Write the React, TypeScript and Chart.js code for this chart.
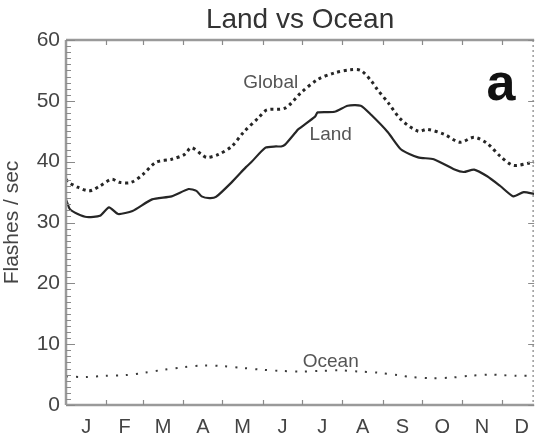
import { useEffect, useRef } from 'react';
import { Chart, registerables } from 'chart.js';

Chart.register(...registerables);

// Month letters and day-of-year boundaries
const monthLabels = ['J', 'F', 'M', 'A', 'M', 'J', 'J', 'A', 'S', 'O', 'N', 'D'];
const monthStarts = [0, 31, 59, 90, 120, 151, 181, 212, 243, 273, 304, 334, 365];
const yTickValues = [0, 10, 20, 30, 40, 50, 60];

// Land (solid)
const landDays = [0, 3, 9, 16, 26, 33, 40, 51, 66, 81, 94, 100, 104, 110, 115, 127, 138, 142, 153, 161, 165, 168, 176, 178, 191, 193, 206, 216, 226, 234, 247, 257, 270, 282, 298, 305, 313, 323, 333, 343, 351, 359];
const landValues = [33.8, 32.2, 31.4, 30.9, 31.1, 32.5, 31.4, 31.9, 33.8, 34.3, 35.5, 35.2, 34.3, 34.0, 34.2, 36.6, 39.1, 39.9, 42.3, 42.5, 42.5, 42.8, 44.8, 45.3, 47.4, 48.1, 48.2, 49.2, 49.2, 47.7, 44.8, 42.0, 40.7, 40.4, 38.7, 38.3, 38.7, 37.6, 36.0, 34.3, 35.0, 34.7];

// Global (dotted)
const globalDays = [0, 2, 9, 18, 26, 35, 41, 50, 59, 69, 81, 91, 96, 104, 108, 117, 127, 136, 148, 154, 168, 180, 193, 206, 218, 226, 234, 239, 247, 257, 270, 277, 290, 302, 313, 323, 333, 343, 356, 359];
const globalValues = [37.1, 36.6, 35.8, 35.2, 36.0, 37.1, 36.6, 36.6, 37.9, 39.9, 40.4, 41.2, 42.3, 41.2, 40.7, 41.2, 42.5, 44.8, 47.3, 48.5, 48.8, 51.3, 53.5, 54.6, 55.1, 55.0, 53.3, 51.8, 49.7, 46.9, 45.0, 45.3, 44.5, 43.2, 44.0, 43.0, 40.9, 39.4, 39.8, 39.9];

// Ocean (dotted)
const oceanDays = [0, 15, 30, 45, 60, 75, 90, 105, 120, 135, 150, 165, 180, 195, 210, 225, 240, 255, 265, 280, 295, 310, 325, 335, 345, 359];
const oceanValues = [4.7, 4.6, 4.8, 4.9, 5.3, 5.8, 6.2, 6.5, 6.4, 6.1, 5.8, 5.6, 5.5, 5.6, 5.7, 5.5, 5.3, 4.9, 4.6, 4.4, 4.5, 4.8, 5.0, 4.9, 4.8, 4.8];

// Annotation text anchors (data coordinates)
const annotations = [
  { text: 'Global', day: 157, value: 52.9 },
  { text: 'Land', day: 203, value: 44.4 },
  { text: 'Ocean', day: 203, value: 7.1 },
];

const FONT = '"Liberation Sans", Arial, Helvetica, sans-serif';
const AXIS_COLOR = '#9a9a9a';
const LINE_COLOR = '#262626';

const toPoints = (xs: number[], ys: number[]) => xs.map((x, i) => ({ x, y: ys[i] }));

const framePlugin = {
  id: 'idlFrame',
  afterDraw(chart: any) {
    const { ctx, chartArea, scales } = chart;
    const { left, right, top, bottom } = chartArea;
    const xs = scales.x;
    const ys = scales.y;
    ctx.save();
    // frame
    ctx.strokeStyle = AXIS_COLOR;
    ctx.lineWidth = 2.5;
    ctx.beginPath();
    ctx.moveTo(left, top);
    ctx.lineTo(right, top);
    ctx.moveTo(left, bottom);
    ctx.lineTo(right, bottom);
    ctx.moveTo(left, top);
    ctx.lineTo(left, bottom);
    ctx.stroke();
    // right side dotted
    ctx.lineWidth = 1.5;
    ctx.setLineDash([2, 3]);
    ctx.beginPath();
    ctx.moveTo(right - 1, top);
    ctx.lineTo(right - 1, bottom);
    ctx.stroke();
    ctx.setLineDash([]);
    // month ticks (inward) on bottom and top
    ctx.lineWidth = 1.2;
    ctx.strokeStyle = '#8a8a8a';
    ctx.beginPath();
    monthStarts.slice(1, 12).forEach((d) => {
      const px = Math.round(xs.getPixelForValue(d)) + 0.5;
      ctx.moveTo(px, bottom);
      ctx.lineTo(px, bottom - 5);
      ctx.moveTo(px, top);
      ctx.lineTo(px, top + 5);
    });
    ctx.stroke();
    // y minor/major ticks (inward) on left, major on right
    ctx.beginPath();
    for (let v = 0; v <= 60; v += 1) {
      const py = Math.round(ys.getPixelForValue(v)) + 0.5;
      const len = v % 10 === 0 ? 9 : 5;
      ctx.moveTo(left, py);
      ctx.lineTo(left + len, py);
    }
    yTickValues.forEach((v) => {
      const py = Math.round(ys.getPixelForValue(v)) + 0.5;
      ctx.moveTo(right, py);
      ctx.lineTo(right - 6, py);
    });
    ctx.stroke();

    // title
    ctx.fillStyle = '#333';
    ctx.font = `28px ${FONT}`;
    ctx.textAlign = 'center';
    ctx.textBaseline = 'middle';
    ctx.fillText('Land vs Ocean', (left + right) / 2, 20);

    // series annotations
    ctx.fillStyle = '#555';
    ctx.font = `19px ${FONT}`;
    annotations.forEach((a) => {
      ctx.fillText(a.text, xs.getPixelForValue(a.day), ys.getPixelForValue(a.value));
    });

    // panel letter
    ctx.fillStyle = '#111';
    ctx.font = `bold 52px ${FONT}`;
    ctx.textBaseline = 'alphabetic';
    ctx.fillText('a', xs.getPixelForValue(333.5), ys.getPixelForValue(50.1));
    ctx.restore();
  },
};

export default function App() {
  const canvasRef = useRef<HTMLCanvasElement | null>(null);

  useEffect(() => {
    if (!canvasRef.current) return;
    const monthMids = monthLabels.map((_, i) => (monthStarts[i] + monthStarts[i + 1]) / 2);
    const chart = new Chart(canvasRef.current, {
      type: 'line',
      data: {
        datasets: [
          {
            label: 'Global',
            data: toPoints(globalDays, globalValues),
            borderColor: LINE_COLOR,
            borderWidth: 3,
            borderDash: [3, 3.6],
            borderCapStyle: 'butt',
            pointRadius: 0,
            tension: 0.3,
            fill: false,
          },
          {
            label: 'Land',
            data: toPoints(landDays, landValues),
            borderColor: LINE_COLOR,
            borderWidth: 2.2,
            pointRadius: 0,
            tension: 0.2,
            fill: false,
          },
          {
            label: 'Ocean',
            data: toPoints(oceanDays, oceanValues),
            borderColor: '#3a3a3a',
            borderWidth: 2,
            borderDash: [2, 8],
            borderCapStyle: 'butt',
            pointRadius: 0,
            tension: 0.3,
            fill: false,
          },
        ],
      },
      options: {
        animation: false,
        responsive: false,
        maintainAspectRatio: false,
        layout: { padding: { top: 40, right: 1, left: 0, bottom: 0 } },
        plugins: {
          legend: { display: false },
          tooltip: { enabled: false },
          title: { display: false },
        },
        scales: {
          x: {
            type: 'linear',
            min: 0,
            max: 359,
            grid: { display: false, drawTicks: false },
            border: { display: false },
            afterBuildTicks: (scale: any) => {
              scale.ticks = monthMids.map((v) => ({ value: v }));
            },
            afterFit: (scale: any) => {
              scale.height = 35;
            },
            ticks: {
              autoSkip: false,
              maxRotation: 0,
              padding: 10,
              color: '#444',
              font: { family: FONT, size: 20 },
              callback: (_v: any, i: number) => monthLabels[i],
            },
          },
          y: {
            min: 0,
            max: 60,
            grid: { display: false, drawTicks: false },
            border: { display: false },
            afterFit: (scale: any) => {
              scale.width = 66;
            },
            ticks: {
              stepSize: 10,
              padding: 6,
              color: '#444',
              font: { family: FONT, size: 21 },
            },
            title: {
              display: true,
              text: 'Flashes / sec',
              color: '#444',
              font: { family: FONT, size: 21 },
              padding: 0,
            },
          },
        },
      },
      plugins: [framePlugin],
    });
    return () => chart.destroy();
  }, []);

  return (
    <div style={{ position: 'fixed', left: 0, top: 0, width: 539, height: 440, background: '#fff' }}>
      <canvas ref={canvasRef} width={539} height={440} style={{ display: 'block', width: 539, height: 440 }} />
    </div>
  );
}
